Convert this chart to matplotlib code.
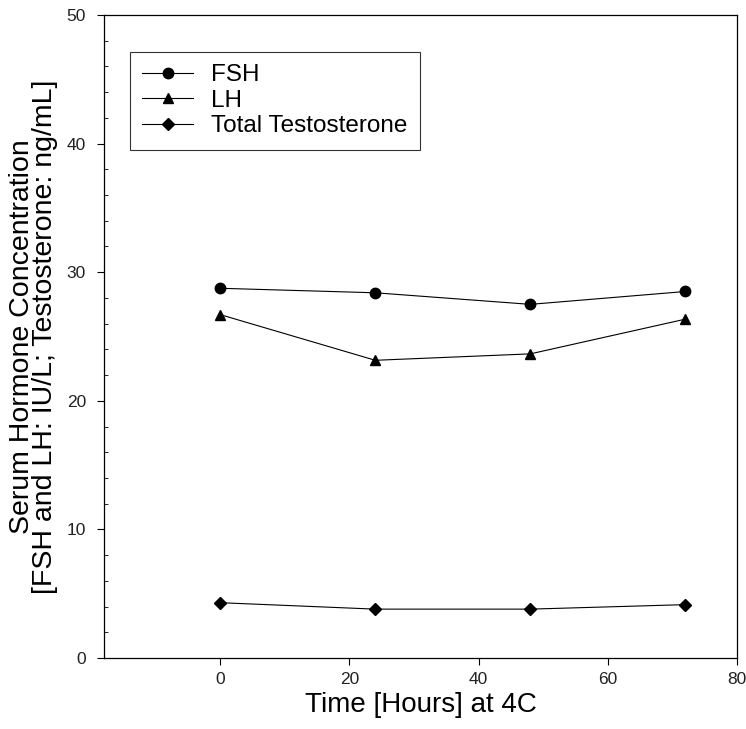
import matplotlib.pyplot as plt
from matplotlib.ticker import MultipleLocator

plt.rcParams['font.family'] = ['Liberation Sans', 'DejaVu Sans']

hours = [0, 24, 48, 72]
fsh = [28.75, 28.4, 27.5, 28.5]
lh = [26.7, 23.15, 23.65, 26.35]
testosterone = [4.3, 3.8, 3.8, 4.15]

fig = plt.figure(figsize=(7.46, 7.29), dpi=100)
ax = fig.add_axes([0.1394, 0.0974, 0.8486, 0.882])

ax.plot(hours, fsh, color='black', lw=0.8, marker='o', ms=7.5, label='FSH')
ax.plot(hours, lh, color='black', lw=0.8, marker='^', ms=7.5, label='LH')
ax.plot(hours, testosterone, color='black', lw=0.8, marker='D', ms=6.5, label='Total Testosterone')

ax.set_xlim(-18, 80)
ax.set_ylim(0, 50)
ax.xaxis.set_major_locator(MultipleLocator(20))
ax.yaxis.set_major_locator(MultipleLocator(10))
ax.yaxis.set_minor_locator(MultipleLocator(2))
ax.tick_params(axis='both', which='major', direction='out', length=5, width=0.8,
               labelsize=12.5, labelcolor='#222222', pad=8)
ax.tick_params(axis='x', which='major', pad=5)
ax.tick_params(axis='y', which='minor', direction='in', length=3, width=0.6)
ax.tick_params(axis='x', which='minor', bottom=False)
for s in ax.spines.values():
    s.set_linewidth(0.9)

ax.set_xlabel('Time [Hours] at 4C', fontsize=20, labelpad=4)
ax.set_ylabel('Serum Hormone Concentration\n[FSH and LH: IU/L; Testosterone: ng/mL]',
              fontsize=20.5, linespacing=0.85, labelpad=6)

leg = ax.legend(loc='upper left', bbox_to_anchor=(0.041, 0.9425), fontsize=17.5,
                frameon=True, fancybox=False, handlelength=2.1, handletextpad=0.75,
                labelspacing=0.15, borderpad=0.5, borderaxespad=0)
leg.get_frame().set_edgecolor('black')
leg.get_frame().set_linewidth(0.8)

fig.savefig('out.png', dpi=100)
